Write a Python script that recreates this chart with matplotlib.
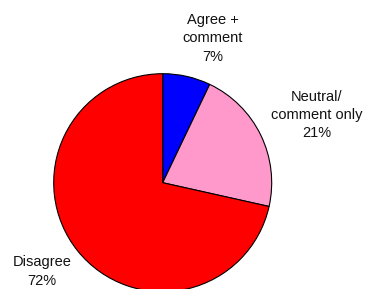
import matplotlib
matplotlib.use("Agg")
import matplotlib.pyplot as plt

categories = ["Agree +\ncomment", "Neutral/\ncomment only", "Disagree"]
values = [7.1, 21.4, 71.5]
pct_labels = ["7%", "21%", "72%"]
colors = ["#0000FF", "#FF99CC", "#FF0000"]

W, H = 365, 289
fig = plt.figure(figsize=(W / 100, H / 100), dpi=100)
ax = fig.add_axes([0, 0, 1, 1])
ax.pie(values, colors=colors, startangle=90, counterclock=False,
       center=(162.7, H - 182.7), radius=109,
       wedgeprops=dict(edgecolor="black", linewidth=0.8))
ax.set_xlim(0, W)
ax.set_ylim(0, H)
ax.set_aspect("equal")
ax.axis("off")

label_pos = [(213, H - 38.5), (317, H - 115), (42, H - 271.5)]
for cat, pct, (x, y) in zip(categories, pct_labels, label_pos):
    ax.text(x, y, f"{cat}\n{pct}", ha="center", va="center",
            fontsize=10.5, family="Liberation Sans", linespacing=1.4,
            color="#111111")

fig.savefig("out.png", dpi=100)
